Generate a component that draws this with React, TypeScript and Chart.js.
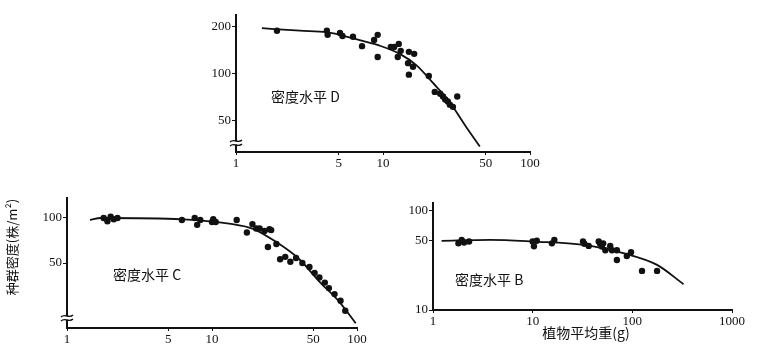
import React, { useEffect, useRef } from "react";
import { Chart, registerables } from "chart.js";
Chart.register(...registerables);

// ---- Panel D (density level D) ----
const dPointsX = [1.9, 4.15, 4.2, 5.1, 5.3, 6.25, 7.2, 8.7, 9.2, 9.2, 11.3, 11.9, 12.8, 13.2, 12.6, 15, 16.3, 14.8, 16, 15, 20.5, 22.5, 24.5, 25.6, 26.5, 27.6, 28.5, 29.9, 32];
const dPointsY = [187, 187, 176, 181, 173, 171, 149, 163, 176, 127, 147, 147, 154, 139, 127, 137, 133, 116, 110, 98, 96, 76, 74, 71, 68, 66, 63, 61, 71];
const dCurveX = [1.5, 2.72, 4.15, 6.25, 9.5, 13, 17, 21.8, 28.5, 37, 45.6];
const dCurveY = [194, 187, 183, 167, 150, 133, 112, 87, 65, 45, 34];
const dXTicks = [1, 5, 10, 50, 100];
const dYTicks = [50, 100, 200];

// ---- Panel C (density level C) ----
const cPointsX = [1.79, 1.9, 2.0, 2.1, 2.23, 6.2, 7.6, 7.9, 8.3, 10, 10.2, 10.6, 14.8, 17.4, 19, 20.2, 21.3, 23, 24.9, 25.6, 24.3, 27.8, 29.5, 32, 34.7, 38, 42, 47, 51, 55, 60, 64, 70, 77, 83];
const cPointsY = [100, 95, 102, 98, 100, 97, 100, 90, 97, 94, 98, 94, 97, 80, 91, 85, 85, 82, 84, 83, 64, 67, 53, 55, 51, 54, 50, 47, 43, 40, 37, 34, 31, 28, 24];
const cCurveX = [1.44, 1.71, 6.3, 13.9, 19, 27.8, 40, 55, 75, 98];
const cCurveY = [97, 100, 98, 91, 85, 69, 53, 37.6, 27.7, 19.8];
const cXTicks = [1, 5, 10, 50, 100];
const cYTicks = [50, 100];

// ---- Panel B (density level B) ----
const bPointsX = [1.8, 1.94, 2.05, 2.3, 10, 10.3, 11, 15.6, 16.5, 32, 33, 36.5, 46, 47.5, 49.5, 51, 53.6, 60, 62.5, 70, 70, 88, 97, 125, 177];
const bPointsY = [47, 51, 48, 49, 49, 44, 50, 47, 51, 49, 46.5, 44.3, 49, 46.5, 43.6, 47, 40, 44.3, 40, 40, 31.9, 35, 38.3, 24.8, 24.8];
const bCurveX = [1.22, 3.74, 10.2, 32.5, 81, 177, 326];
const bCurveY = [49.8, 51, 49, 45.4, 37.4, 28.5, 18.2];
const bXTicks = [1, 10, 100, 1000];
const bYTicks = [10, 50, 100];

const INK = "#111";
const SERIF = '"Liberation Serif", "DejaVu Serif", serif';
const CJK = '"Noto Sans CJK SC", "Noto Sans", sans-serif';

type TextItem = { text: string; x: number; y: number; rotate?: number; size?: number; align?: CanvasTextAlign };

function makeTextPlugin(items: TextItem[]) {
  return {
    id: "panelTexts",
    afterDraw(chart: any) {
      const ctx = chart.ctx;
      for (const it of items) {
        ctx.save();
        ctx.fillStyle = INK;
        ctx.font = `${it.size || 14}px ${CJK}`;
        ctx.textAlign = it.align || "left";
        ctx.textBaseline = "middle";
        ctx.translate(it.x, it.y);
        if (it.rotate) ctx.rotate(it.rotate);
        ctx.fillText(it.text, 0, 0);
        ctx.restore();
      }
    },
  };
}

function makeBreakPlugin(offset: number) {
  return {
    id: "axisBreak",
    afterDraw(chart: any) {
      const ctx = chart.ctx;
      const x = chart.chartArea.left;
      const y = chart.chartArea.bottom - offset;
      ctx.save();
      ctx.fillStyle = "#fff";
      ctx.fillRect(x - 3, y - 2, 6, 4);
      ctx.strokeStyle = INK;
      ctx.lineWidth = 1.3;
      for (const dy of [-2, 2]) {
        ctx.beginPath();
        ctx.moveTo(x - 6, y + dy + 1);
        ctx.bezierCurveTo(x - 2, y + dy - 3, x + 2, y + dy + 3, x + 6, y + dy - 1);
        ctx.stroke();
      }
      ctx.restore();
    },
  };
}

type Panel = {
  left: number; top: number; width: number; height: number;
  pad: { left: number; right: number; top: number; bottom: number };
  yWidth: number; xHeight: number;
  xMin: number; xMax: number; yMin: number; yMax: number;
  xTicks: number[]; yTicks: number[];
  px: number[]; py: number[]; cx: number[]; cy: number[];
  texts: TextItem[]; breakOffset?: number;
};

const panels: Panel[] = [
  {
    left: 196, top: 0, width: 350, height: 175,
    pad: { left: 0, right: 16, top: 15, bottom: 0 }, yWidth: 40, xHeight: 23,
    xMin: 1, xMax: 100, yMin: 31.4, yMax: 235.6,
    xTicks: dXTicks, yTicks: dYTicks,
    px: dPointsX, py: dPointsY, cx: dCurveX, cy: dCurveY,
    texts: [{ text: "密度水平 D", x: 75, y: 97 }],
    breakOffset: 9,
  },
  {
    left: 0, top: 185, width: 380, height: 172,
    pad: { left: 0, right: 23, top: 13, bottom: 0 }, yWidth: 67, xHeight: 29,
    xMin: 1, xMax: 100, yMin: 18.4, yMax: 136,
    xTicks: cXTicks, yTicks: cYTicks,
    px: cPointsX, py: cPointsY, cx: cCurveX, cy: cCurveY,
    texts: [
      { text: "密度水平 C", x: 113, y: 90 },
      { text: "种群密度(株/m²)", x: 12, y: 62, rotate: -Math.PI / 2, align: "center", size: 13 },
    ],
    breakOffset: 10,
  },
  {
    left: 390, top: 190, width: 370, height: 167,
    pad: { left: 0, right: 28, top: 13, bottom: 0 }, yWidth: 43, xHeight: 47,
    xMin: 1, xMax: 1000, yMin: 10, yMax: 120,
    xTicks: bXTicks, yTicks: bYTicks,
    px: bPointsX, py: bPointsY, cx: bCurveX, cy: bCurveY,
    texts: [
      { text: "密度水平 B", x: 65, y: 90 },
      { text: "植物平均重(g)", x: 196, y: 143, align: "center", size: 14 },
    ],
  },
];

function PanelChart({ p }: { p: Panel }) {
  const ref = useRef<HTMLCanvasElement | null>(null);
  useEffect(() => {
    if (!ref.current) return;
    const pts = p.px.map((x, i) => ({ x, y: p.py[i] }));
    const curve = p.cx.map((x, i) => ({ x, y: p.cy[i] }));
    const plugins: any[] = [makeTextPlugin(p.texts)];
    if (p.breakOffset !== undefined) plugins.push(makeBreakPlugin(p.breakOffset));
    const tickFont = { family: SERIF, size: 13 };
    const chart = new Chart(ref.current, {
      type: "scatter",
      data: {
        datasets: [
          {
            data: curve, showLine: true, pointRadius: 0, borderColor: INK, borderWidth: 1.8,
            cubicInterpolationMode: "monotone", fill: false,
          } as any,
          {
            data: pts, showLine: false, pointRadius: 3.2, pointBackgroundColor: INK,
            pointBorderColor: INK, pointBorderWidth: 0,
          } as any,
        ],
      },
      options: {
        animation: false,
        responsive: false,
        devicePixelRatio: 1,
        layout: { padding: p.pad },
        plugins: { legend: { display: false }, tooltip: { enabled: false } },
        scales: {
          x: {
            type: "logarithmic", min: p.xMin, max: p.xMax,
            afterBuildTicks: (s: any) => { s.ticks = p.xTicks.map((v) => ({ value: v })); },
            afterFit: (s: any) => { s.height = p.xHeight; s.paddingLeft = 0; s.paddingRight = 0; },
            ticks: { color: INK, font: tickFont, padding: 1, maxRotation: 0, autoSkip: false, callback: (v: any) => String(v) },
            grid: { display: true, drawOnChartArea: false, tickLength: 3, color: INK },
            border: { color: INK, width: 2 },
          },
          y: {
            type: "logarithmic", min: p.yMin, max: p.yMax,
            afterBuildTicks: (s: any) => { s.ticks = p.yTicks.map((v) => ({ value: v })); },
            afterFit: (s: any) => { s.width = p.yWidth; s.paddingTop = 0; s.paddingBottom = 0; },
            ticks: { color: INK, font: tickFont, padding: 1, autoSkip: false, callback: (v: any) => String(v) },
            grid: { display: true, drawOnChartArea: false, tickLength: 4, color: INK },
            border: { color: INK, width: 2 },
          },
        },
      } as any,
      plugins,
    });
    return () => chart.destroy();
  }, [p]);
  return (
    <canvas
      ref={ref}
      width={p.width}
      height={p.height}
      style={{ position: "absolute", left: p.left, top: p.top, width: p.width, height: p.height }}
    />
  );
}

export default function App() {
  return (
    <div style={{ position: "absolute", left: 0, top: 0, width: 760, height: 357, background: "#fff", overflow: "hidden" }}>
      {panels.map((p, i) => (
        <PanelChart key={i} p={p} />
      ))}
    </div>
  );
}
